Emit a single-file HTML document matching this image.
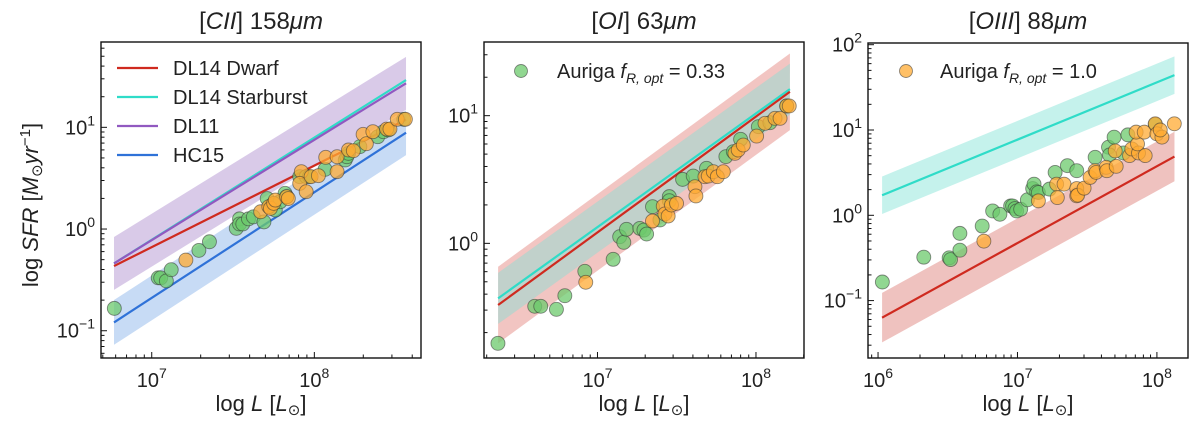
<!DOCTYPE html>
<html><head><meta charset="utf-8"><style>
body{margin:0;background:#fff;}
svg text{font-family:"Liberation Sans","DejaVu Sans",sans-serif;fill:#222;}
</style></head><body>
<svg id="c" width="1200" height="420" viewBox="0 0 1200 420"></svg>
<script>
// ---------- data (log10 values) ----------
const p1GreenL=[6.77,7.04,7.055,7.09,7.12,7.29,7.355,7.52,7.54,7.54,7.56,7.595,7.625,7.69,7.71,7.74,7.76,7.79,7.82,7.83,7.91,7.95,7.97,8.066,8.19,8.20,8.21,8.28,8.39,8.425,8.455,8.55];
const p1GreenS=[-0.78,-0.48,-0.48,-0.51,-0.40,-0.21,-0.125,0.007,0.10,0.05,0.05,0.10,0.12,0.07,0.30,0.236,0.187,0.269,0.351,0.318,0.515,0.515,0.515,0.587,0.679,0.711,0.744,0.81,0.908,0.957,0.974,1.079];
const p1OrangeL=[7.21,7.67,7.72,7.73,7.75,7.76,7.83,7.84,7.92,7.91,7.95,7.98,8.025,8.07,8.14,8.14,8.21,8.24,8.30,8.32,8.36,8.445,8.465,8.51,8.56];
const p1OrangeS=[-0.305,0.17,0.22,0.203,0.252,0.285,0.318,0.30,0.564,0.449,0.367,0.515,0.525,0.705,0.711,0.564,0.777,0.77,0.931,0.839,0.957,0.983,0.983,1.079,1.079];
const p2GreenL=[6.372,6.604,6.642,6.741,6.794,6.92,7.099,7.14,7.166,7.183,7.267,7.293,7.31,7.347,7.394,7.453,7.453,7.537,7.604,7.688,7.81,7.857,7.903,8.015,8.088,8.194];
const p2GreenS=[-0.783,-0.493,-0.493,-0.517,-0.41,-0.219,-0.125,0.052,0.008,0.11,0.117,0.104,0.073,0.287,0.183,0.366,0.334,0.501,0.527,0.588,0.679,0.718,0.815,0.914,0.945,1.076];
const p2OrangeL=[6.926,7.347,7.415,7.425,7.446,7.467,7.499,7.615,7.621,7.678,7.699,7.731,7.756,7.794,7.867,7.888,7.92,8.004,8.057,8.12,8.152,8.194,8.21];
const p2OrangeS=[-0.305,0.175,0.292,0.23,0.214,0.30,0.313,0.444,0.371,0.522,0.527,0.561,0.522,0.561,0.705,0.731,0.77,0.84,0.94,0.979,0.979,1.076,1.076];
const p3GreenL=[6.031,6.328,6.51,6.52,6.587,6.587,6.747,6.822,6.874,6.951,6.965,6.982,6.994,7.023,7.071,7.109,7.119,7.138,7.15,7.229,7.27,7.358,7.425,7.557,7.653,7.66,7.693,7.76,7.792,7.988];
const p3GreenS=[-0.782,-0.491,-0.499,-0.519,-0.212,-0.409,-0.126,0.051,0.012,0.11,0.11,0.079,0.051,0.071,0.181,0.314,0.365,0.275,0.267,0.307,0.503,0.582,0.523,0.68,0.798,0.707,0.916,0.731,0.943,1.065];
const p3OrangeL=[6.759,7.15,7.281,7.286,7.334,7.425,7.425,7.432,7.478,7.521,7.557,7.564,7.636,7.641,7.701,7.708,7.804,7.82,7.868,7.861,7.916,7.851,7.909,7.988,8.0,8.036,8.125,8.024];
const p3OrangeS=[-0.303,0.169,0.365,0.208,0.365,0.314,0.228,0.236,0.318,0.444,0.523,0.503,0.562,0.523,0.754,0.574,0.7,0.778,0.731,0.837,0.7,0.975,0.975,1.073,0.955,0.916,1.073,1.0];
const p1ModelL=[6.768,8.564];
const p1DwarfS=[-0.364,1.076];
const p1StarburstS=[-0.338,1.465];
const p1DL11S=[-0.338,1.433];
const p1HC15S=[-0.918,0.947];
const p1DL11Band=[0.26,0.26];
const p1HC15Band=[0.22,0.22];
const p2ModelL=[6.373,8.214];
const p2DwarfS=[-0.483,1.187];
const p2StarburstS=[-0.431,1.208];
const p2DwarfBand=[0.3,0.3];
const p2StarburstBand=[0.2,0.2];
const p3ModelL=[6.029,8.126];
const p3DwarfS=[-1.2,0.689];
const p3StarburstS=[0.235,1.643];
const p3DwarfBand=[0.29,0.29];
const p3StarburstBand=[0.22,0.22];

const C={red:'#cf2a1f',cyan:'#2fdcc8',purple:'#9159c0',blue:'#2f72d8',green:'#6cc96c',orange:'#ffab33'};
const svg=document.getElementById('c');
const NS='http://www.w3.org/2000/svg';
function el(tag,attrs,parent){const e=document.createElementNS(NS,tag);for(const k in attrs)e.setAttribute(k,attrs[k]);(parent||svg).appendChild(e);return e;}

const panels=[
 {name:'cii',box:[101,42,421,358],xr:[6.688,8.656],yr:[-1.268,1.839],xt:[7,8],yt:[-1,0,1]},
 {name:'oi',box:[484,42,804,358],xr:[6.284,8.303],yr:[-0.898,1.577],xt:[7,8],yt:[0,1]},
 {name:'oiii',box:[868,43,1188,358],xr:[5.928,8.223],yr:[-1.673,2.02],xt:[6,7,8],yt:[-1,0,1,2]}
];
panels.forEach(p=>{
 const [x0,y0,x1,y1]=p.box;
 p.X=v=>x0+(v-p.xr[0])/(p.xr[1]-p.xr[0])*(x1-x0);
 p.Y=v=>y1-(v-p.yr[0])/(p.yr[1]-p.yr[0])*(y1-y0);
 const g=el('g',{});
 
 
 p.g=g;
 const cp=el('clipPath',{id:'clip-'+p.name},g);
 el('rect',{x:x0,y:y0,width:x1-x0,height:y1-y0},cp);
 p.plot=el('g',{'clip-path':'url(#clip-'+p.name+')'},g);
});

function band(p,Lr,Sr,w,fill,op,name){
 const pts=[[Lr[0],Sr[0]+w[0]],[Lr[1],Sr[1]+w[1]],[Lr[1],Sr[1]-w[1]],[Lr[0],Sr[0]-w[0]]];
 const e=el('polygon',{points:pts.map(q=>p.X(q[0])+','+p.Y(q[1])).join(' '),fill:fill,'fill-opacity':op},p.plot);
 
 
}
function line(p,Lr,Sr,col,name){
 const e=el('line',{x1:p.X(Lr[0]),y1:p.Y(Sr[0]),x2:p.X(Lr[1]),y2:p.Y(Sr[1]),stroke:col,'stroke-width':2.2},p.plot);
 
 
}
function scatter(p,L,S,col,name){
 L.forEach((l,i)=>{
  const e=el('circle',{cx:p.X(l),cy:p.Y(S[i]),r:7,fill:col,'fill-opacity':0.75,stroke:'#333','stroke-opacity':0.55,'stroke-width':0.9},p.plot);
  
  
 });
}
const [P1,P2,P3]=panels;
band(P1,p1ModelL,p1DL11S,p1DL11Band,'#c9b3de',0.7,'dl11-band');
band(P1,p1ModelL,p1HC15S,p1HC15Band,'#a9c7ef',0.65,'hc15-band');
line(P1,p1ModelL,p1StarburstS,C.cyan,'dl14-starburst-line');
line(P1,p1ModelL,p1DL11S,C.purple,'dl11-line');
line(P1,p1ModelL,p1DwarfS,C.red,'dl14-dwarf-line');
line(P1,p1ModelL,p1HC15S,C.blue,'hc15-line');
scatter(P1,p1GreenL,p1GreenS,C.green,'green-point');
scatter(P1,p1OrangeL,p1OrangeS,C.orange,'orange-point');
band(P2,p2ModelL,p2DwarfS,p2DwarfBand,'#e79590',0.55,'dwarf-band');
band(P2,p2ModelL,p2StarburstS,p2StarburstBand,'#8fded3',0.5,'starburst-band');
line(P2,p2ModelL,p2StarburstS,C.cyan,'dl14-starburst-line');
line(P2,p2ModelL,p2DwarfS,C.red,'dl14-dwarf-line');
scatter(P2,p2GreenL,p2GreenS,C.green,'green-point');
scatter(P2,p2OrangeL,p2OrangeS,C.orange,'orange-point');
band(P3,p3ModelL,p3StarburstS,p3StarburstBand,'#9fe9df',0.6,'starburst-band');
band(P3,p3ModelL,p3DwarfS,p3DwarfBand,'#e28f8a',0.55,'dwarf-band');
line(P3,p3ModelL,p3StarburstS,C.cyan,'dl14-starburst-line');
line(P3,p3ModelL,p3DwarfS,C.red,'dl14-dwarf-line');
scatter(P3,p3GreenL,p3GreenS,C.green,'green-point');
scatter(P3,p3OrangeL,p3OrangeS,C.orange,'orange-point');

panels.forEach(p=>{
 const [x0,y0,x1,y1]=p.box;
 const f=el('rect',{x:x0,y:y0,width:x1-x0,height:y1-y0,fill:'none',stroke:'#111','stroke-width':1.4},p.g);
 
 
 for(let d=Math.floor(p.xr[0]);d<=p.xr[1];d++){for(let m=1;m<10;m++){const v=d+Math.log10(m);if(v<p.xr[0]||v>p.xr[1])continue;const x=p.X(v);el('line',{x1:x,x2:x,y1:y1,y2:y1-(m==1?6:3.5),stroke:'#111','stroke-width':1},p.g);}}
 for(let d=Math.floor(p.yr[0]);d<=p.yr[1];d++){for(let m=1;m<10;m++){const v=d+Math.log10(m);if(v<p.yr[0]||v>p.yr[1])continue;const y=p.Y(v);el('line',{x1:x0,x2:x0+(m==1?6:3.5),y1:y,y2:y,stroke:'#111','stroke-width':1},p.g);}}
 p.xt.forEach(t=>{const tx=el('text',{x:p.X(t),y:387,'text-anchor':'middle','font-size':20},p.g);tx.innerHTML='10<tspan dy="-9" font-size="14">'+t+'</tspan>';
  });
 p.yt.forEach(t=>{const tx=el('text',{x:x0-6,y:p.Y(t)+7,'text-anchor':'end','font-size':20},p.g);tx.innerHTML='10<tspan dy="-9" font-size="14">'+(t<0?'−'+(-t):t)+'</tspan>';
  });
 const xl=el('text',{x:(x0+x1)/2,y:411,'text-anchor':'middle','font-size':22},p.g);
 xl.innerHTML='log <tspan font-style="italic">L</tspan> [<tspan font-style="italic">L</tspan><tspan font-size="15" dy="4">⊙</tspan><tspan dy="-4">]</tspan>';
 
});
const titles=[[261,'CII',' 158',P1],[644,'OI',' 63',P2],[1028,'OIII',' 88',P3]];
titles.forEach(t=>{const tx=el('text',{x:t[0],y:29,'text-anchor':'middle','font-size':24},t[3].g);
 tx.innerHTML='[<tspan font-style="italic">'+t[1]+'</tspan>]'+t[2]+'<tspan font-style="italic">μm</tspan>';
 });
const yl=el('text',{x:0,y:0,'text-anchor':'middle','font-size':22,transform:'translate(38,205) rotate(-90)'});
yl.innerHTML='log <tspan font-style="italic">SFR</tspan> [<tspan font-style="italic">M</tspan><tspan font-size="15" dy="4">⊙</tspan><tspan dy="-4" font-style="italic">yr</tspan><tspan dy="-8" font-size="15">−1</tspan><tspan dy="8">]</tspan>';

const leg=[['DL14 Dwarf',C.red],['DL14 Starburst',C.cyan],['DL11',C.purple],['HC15',C.blue]];
leg.forEach((l,i)=>{const y=68+i*29;const g=el('g',{},P1.g);
 
 el('line',{x1:117,x2:158,y1:y,y2:y,stroke:l[1],'stroke-width':2.2},g);
 const t=el('text',{x:173,y:y+7,'font-size':20},g);t.textContent=l[0];});
[[P2,521,557,C.green,'0.33'],[P3,906,940,C.orange,'1.0']].forEach(a=>{const g=el('g',{},a[0].g);
 
 el('circle',{cx:a[1],cy:71,r:6.5,fill:a[3],'fill-opacity':0.75,stroke:'#333','stroke-opacity':0.55,'stroke-width':0.9},g);
 const t=el('text',{x:a[2],y:78,'font-size':20},g);
 t.innerHTML='Auriga <tspan font-style="italic">f</tspan><tspan font-style="italic" font-size="14" dy="5">R, opt</tspan><tspan dy="-5"> = '+a[4]+'</tspan>';});
</script>
</body></html>
